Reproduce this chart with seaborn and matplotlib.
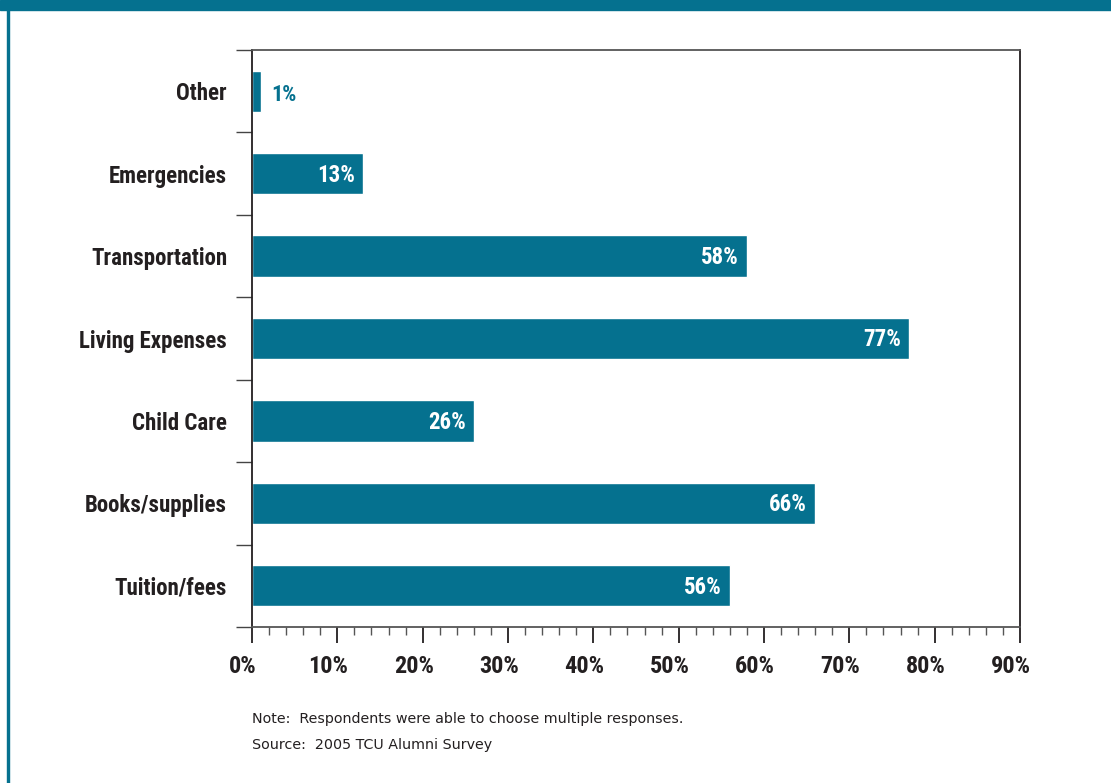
import matplotlib
matplotlib.use("Agg")
import matplotlib.pyplot as plt
from matplotlib import font_manager
from matplotlib.transforms import ScaledTranslation
import seaborn as sns
import pandas as pd
from matplotlib.patches import Rectangle
from matplotlib.ticker import MultipleLocator, FixedLocator, PercentFormatter

# Data
categories = ["Other", "Emergencies", "Transportation", "Living Expenses",
              "Child Care", "Books/supplies", "Tuition/fees"]
percents = [1, 13, 58, 77, 26, 66, 56]
note_lines = ["Note:  Respondents were able to choose multiple responses.",
              "Source:  2005 TCU Alumni Survey"]

teal = "#05718F"
dark = "#231F20"


def pick_condensed():
    # look for a narrow / condensed face among installed fonts
    fonts = font_manager.fontManager.ttflist
    for name in ["Liberation Sans Narrow", "Roboto Condensed", "Open Sans Condensed",
                 "Noto Sans Condensed", "DejaVu Sans Condensed"]:
        if any(f.name == name for f in fonts):
            return name, "normal"
    for f in fonts:
        if f.stretch in ("condensed", "semi-condensed") and f.name in (
                "DejaVu Sans", "Noto Sans", "Open Sans", "Roboto", "Inter", "Lato"):
            return f.name, f.stretch
    return "DejaVu Sans", None


cond_family, cond_stretch = pick_condensed()
cond = {"family": [cond_family, "DejaVu Sans"], "fontweight": "bold"}
if cond_stretch:
    cond["fontstretch"] = cond_stretch
is_narrow = bool(cond_stretch) or cond_family != "DejaVu Sans"
big = 17.5 if is_narrow else 15
ylab_size = 16.5 if is_narrow else 14

sns.set_style("white")
plt.rcParams["font.family"] = [cond_family, "DejaVu Sans"]

df = pd.DataFrame({"Category": categories, "Percent": percents})

fig = plt.figure(figsize=(11.11, 7.83), dpi=100)
ax = fig.add_axes([252 / 1111, 1 - 627 / 783, 768 / 1111, 577 / 783])

sns.barplot(data=df, y="Category", x="Percent", order=categories,
            color=teal, saturation=1, width=0.5, ax=ax)

ax.set_xlim(0, 90)
ax.set_ylim(len(categories) - 0.5, -0.5)
ax.set_xlabel("")
ax.set_ylabel("")

# x ticks
ax.xaxis.set_major_locator(MultipleLocator(10))
ax.xaxis.set_minor_locator(MultipleLocator(2))
ax.xaxis.set_major_formatter(PercentFormatter(decimals=0))
ax.tick_params(axis="x", which="both", bottom=True, top=False)
ax.tick_params(axis="x", which="major", direction="out", length=11.5, width=1.3,
               color=dark, pad=8.5, labelsize=big, labelcolor=dark)
ax.tick_params(axis="x", which="minor", direction="out", length=5.8, width=1.0,
               color="#555555")

# y ticks: labels at bar centers, tick marks at boundaries
ax.yaxis.set_minor_locator(FixedLocator([i - 0.5 for i in range(len(categories) + 1)]))
ax.tick_params(axis="y", which="both", left=True, right=False)
ax.tick_params(axis="y", which="major", length=0, pad=18, labelsize=ylab_size, labelcolor=dark)
ax.tick_params(axis="y", which="minor", direction="out", length=11.5, width=1.0, color="#444444")

# the percent labels sit a little left of their ticks in the original
shift = ScaledTranslation(-9 / 100, 0, fig.dpi_scale_trans)
for lab in ax.get_xticklabels():
    lab.set_transform(lab.get_transform() + shift)

for lab in ax.get_xticklabels() + ax.get_yticklabels():
    lab.set_fontweight("bold")
    if cond_stretch:
        lab.set_fontstretch(cond_stretch)

for side in ["left", "right", "top", "bottom"]:
    ax.spines[side].set_visible(True)
    ax.spines[side].set_color(dark)
    ax.spines[side].set_linewidth(1.3)
ax.spines["top"].set_color("#555555")
ax.spines["bottom"].set_color("#555555")

# value labels
for i, v in enumerate(percents):
    if v < 5:
        ax.annotate(f"{v}%", (v, i), xytext=(8, -3), textcoords="offset points",
                    ha="left", va="center", color=teal, fontsize=16, **cond)
    else:
        ax.annotate(f"{v}%", (v, i), xytext=(-6, -1), textcoords="offset points",
                    ha="right", va="center", color="white", fontsize=16.5, **cond)

# notes under the chart
for k, line in enumerate(note_lines):
    fig.text(252 / 1111, 1 - (719 + 26 * k) / 783, line, fontsize=10.3, color=dark,
             va="center", family=["DejaVu Sans"])

# frame: teal band at top and a line down the left edge
fig.patches.append(Rectangle((0, 1 - 10 / 783), 1, 10 / 783, transform=fig.transFigure,
                             color=teal, zorder=5))
fig.patches.append(Rectangle((7 / 1111, 0), 2.2 / 1111, 1, transform=fig.transFigure,
                             color=teal, zorder=5))

fig.savefig("out.png", dpi=100)
